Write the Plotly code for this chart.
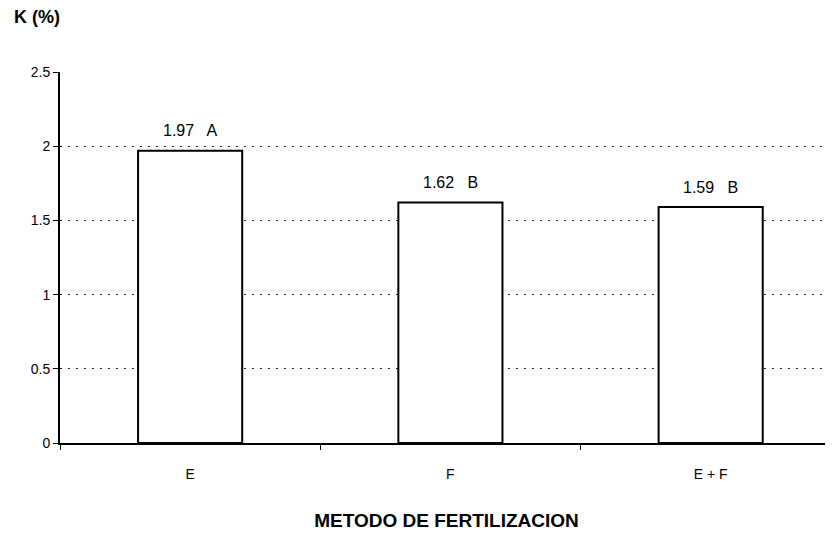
import plotly.graph_objects as go

categories = ["E", "F", "E + F"]
values = [1.97, 1.62, 1.59]
letters = ["A", "B", "B"]
y_ticks = [0, 0.5, 1, 1.5, 2, 2.5]
y_tick_labels = ["0", "0.5", "1", "1.5", "2", "2.5"]

labels = [f"{v:.2f}   {l}" for v, l in zip(values, letters)]

fig = go.Figure()
fig.add_trace(go.Bar(
    x=categories, y=values, width=0.4,
    marker=dict(color="white", line=dict(color="black", width=2)),
    hoverinfo="x+y",
))

for c, v, t in zip(categories, values, labels):
    fig.add_annotation(
        x=c, y=v, text=t, showarrow=False, yshift=20, yanchor="middle",
        font=dict(family="Arial, Liberation Sans", size=16, color="black"),
    )

fig.update_layout(
    width=825, height=530,
    margin=dict(l=52, r=0, t=64, b=95),
    plot_bgcolor="white", paper_bgcolor="white",
    showlegend=False,
    font=dict(family="Arial, Liberation Sans", color="black"),
)
fig.update_xaxes(
    type="category", range=[-0.5, 2.47],
    showline=True, linecolor="black", linewidth=2,
    ticks="outside", tickson="boundaries", ticklen=5, tickcolor="black",
    ticklabelstandoff=17,
    tickfont=dict(size=14),
    showgrid=False,
    title=dict(text="<b>METODO DE FERTILIZACION</b>", font=dict(size=19), standoff=33),
)
fig.update_yaxes(
    range=[0, 2.5], tickvals=y_ticks, ticktext=y_tick_labels,
    showline=True, linecolor="black", linewidth=2,
    ticks="outside", ticklen=5, tickcolor="black",
    tickfont=dict(size=14),
    showgrid=True, gridcolor="#222", griddash="2px,6px", gridwidth=1.2,
    zeroline=False,
)
fig.add_annotation(
    text="<b>K (%)</b>", xref="paper", yref="paper", x=-0.062, y=1.0,
    yshift=55, xanchor="left", yanchor="middle", showarrow=False,
    font=dict(size=18),
)

fig.write_html("out.html")
